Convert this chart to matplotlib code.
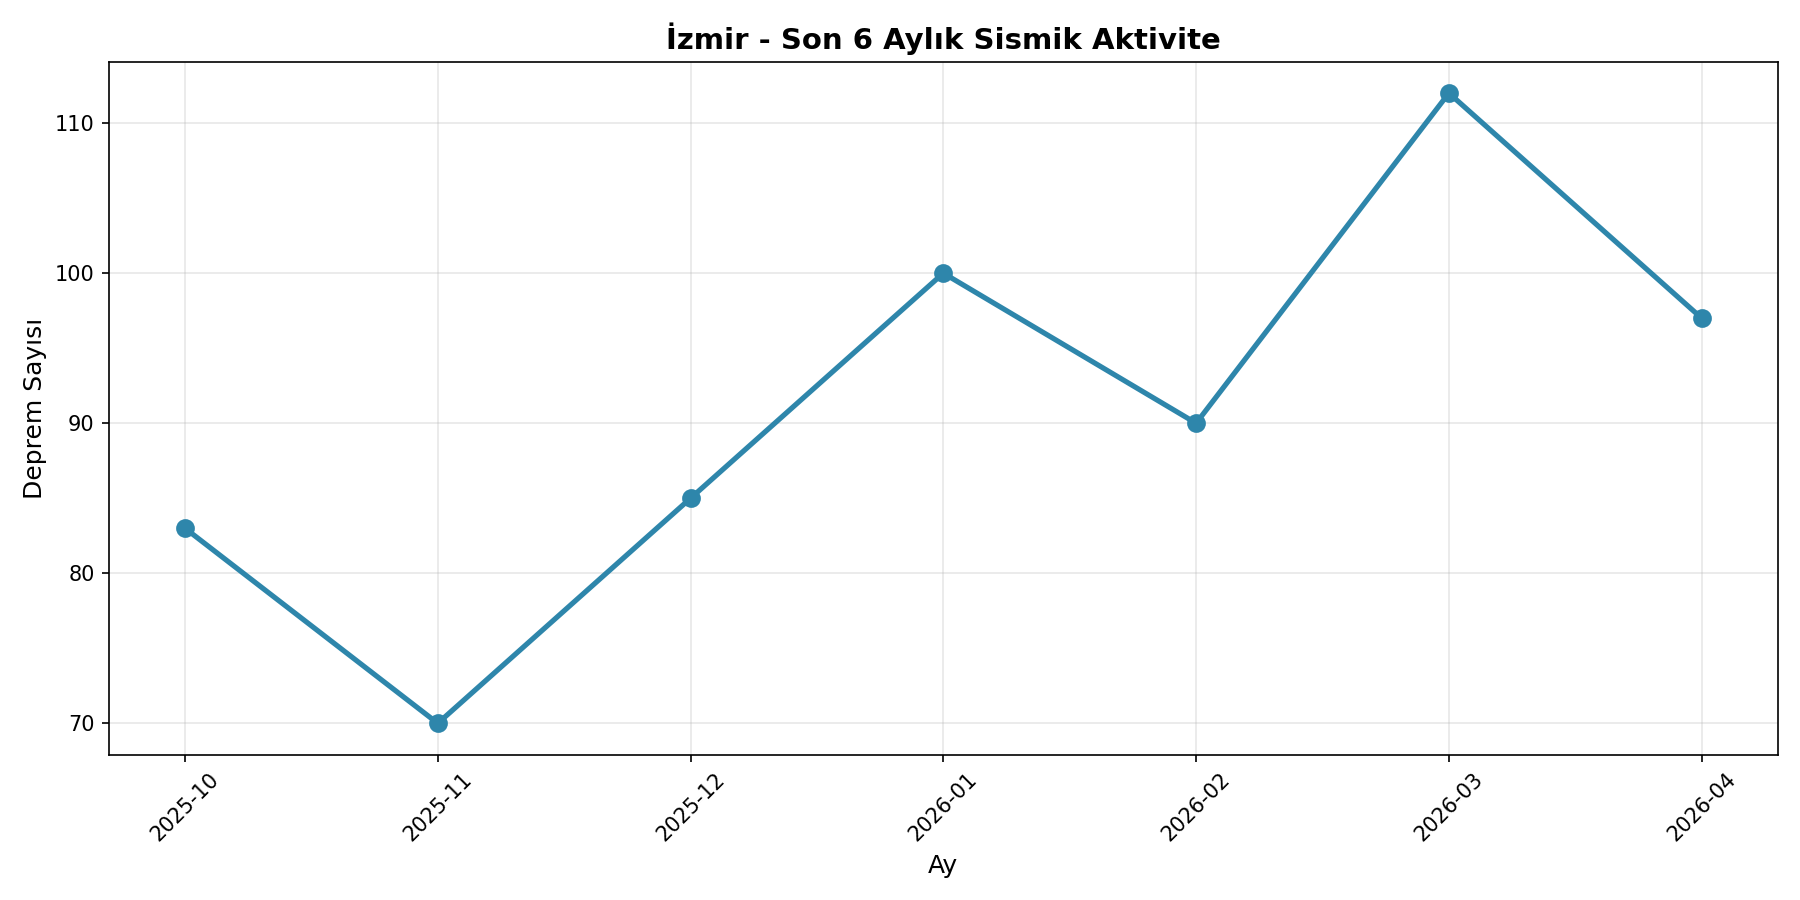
import matplotlib
matplotlib.use("Agg")
import matplotlib.pyplot as plt

months = ["2025-10", "2025-11", "2025-12", "2026-01", "2026-02", "2026-03", "2026-04"]
counts = [83, 70, 85, 100, 90, 112, 97]

fig, ax = plt.subplots(figsize=(12, 6), dpi=150)
ax.plot(months, counts, marker="o", color="#2E86AB", linewidth=2.5, markersize=8)
ax.set_title("İzmir - Son 6 Aylık Sismik Aktivite", fontsize=14, fontweight="bold")
ax.set_xlabel("Ay", fontsize=12)
ax.set_ylabel("Deprem Sayısı", fontsize=12)
ax.grid(True, alpha=0.3)
plt.xticks(rotation=45)
plt.tight_layout()
plt.savefig("out.png", dpi=150)
